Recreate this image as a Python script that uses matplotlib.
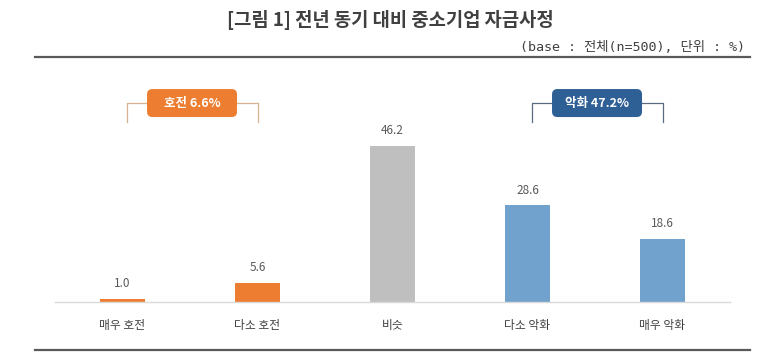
import matplotlib
matplotlib.use("Agg")
import matplotlib.pyplot as plt
from matplotlib.patches import FancyBboxPatch
from matplotlib.lines import Line2D
import numpy as np

plt.rcParams['font.family'] = ['Noto Sans CJK KR', 'DejaVu Sans']

# =====================
# DATA
# =====================
categories = ["매우 호전", "다소 호전", "비슷", "다소 악화", "매우 악화"]
values = [1.0, 5.6, 46.2, 28.6, 18.6]
bar_colors = ["#ED7D31", "#ED7D31", "#BFBFBF", "#71A1CD", "#71A1CD"]

group_labels = ["호전 6.6%", "악화 47.2%"]
group_ranges = [(0, 1), (3, 4)]
group_colors = ["#ED7D31", "#2E5F95"]
group_line_colors = ["#D8B28F", "#5A6B80"]

title = "[그림 1] 전년 동기 대비 중소기업 자금사정"
subtitle = "(base : 전체(n=500), 단위 : %)"

# =====================
# PLOT
# =====================
fig = plt.figure(figsize=(7.79, 3.6), dpi=100)
ax = fig.add_axes([55 / 779, 58 / 360, 675 / 779, 202 / 360])

x = np.arange(len(categories))
bars = ax.bar(x, values, width=0.33, color=bar_colors)

for bar, v in zip(bars, values):
    ax.text(bar.get_x() + bar.get_width() / 2, v + 2.6, f"{v:.1f}",
            ha="center", va="bottom", fontsize=8.5, color="#595959")

ax.set_xlim(-0.5, len(categories) - 0.5)
ax.set_ylim(0, 59.8)
ax.set_xticks(x)
ax.set_xticklabels(categories, fontsize=8.5, color="#404040")
ax.tick_params(axis="x", length=0, pad=12)
ax.set_yticks([])
for s in ["top", "left", "right"]:
    ax.spines[s].set_visible(False)
ax.spines["bottom"].set_color("#D9D9D9")
ax.spines["bottom"].set_linewidth(1.0)

# group brackets with label boxes
px_y = 59.8 / 202  # data units per pixel, y
px_x = 5 / 675     # data units per pixel, x
for (a, b), lab, fc, lc in zip(group_ranges, group_labels, group_colors, group_line_colors):
    x0 = x[a] + 0.03
    x1 = x[b]
    ytop = 58.9
    ybot = 53.3
    ax.plot([x0, x0, x1, x1], [ybot, ytop, ytop, ybot], color=lc, lw=0.9,
            clip_on=False, zorder=2)
    xc = (x0 + x1) / 2
    w = 90 * px_x
    h = 28 * px_y
    box = FancyBboxPatch((xc - w / 2, ytop - h / 2), w, h,
                         boxstyle="round,pad=0,rounding_size=0.04",
                         mutation_aspect=px_y / px_x,
                         fc=fc, ec="none", clip_on=False, zorder=3)
    ax.add_patch(box)
    ax.text(xc, ytop, lab, ha="center", va="center", fontsize=9,
            color="white", fontweight="bold", zorder=4, clip_on=False)

# title, subtitle and rules
fig.text(390 / 779, 1 - 20 / 360, title, ha="center", va="center",
         fontsize=13.5, fontweight="bold", color="#404040")
fig.text(745 / 779, 1 - 47.5 / 360, subtitle, ha="right", va="center",
         fontsize=9.6, color="#404040",
         family=['DejaVu Sans Mono', 'Noto Sans CJK KR'])
fig.add_artist(Line2D([35 / 779, 750 / 779], [1 - 57 / 360] * 2,
                      color="#595959", lw=1.6, transform=fig.transFigure))
fig.add_artist(Line2D([35 / 779, 750 / 779], [1 - 350 / 360] * 2,
                      color="#595959", lw=1.6, transform=fig.transFigure))

fig.savefig("out.png", dpi=100, facecolor="white")
